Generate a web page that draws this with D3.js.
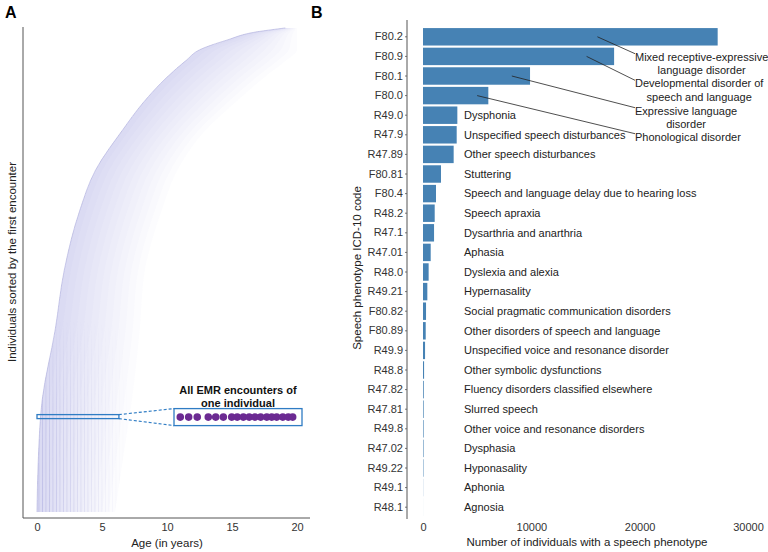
<!DOCTYPE html>
<html>
<head>
<meta charset="utf-8">
<script src="https://cdn.jsdelivr.net/npm/d3@7"></script>
<style>
  body { margin: 0; background: #fff; }
  svg { font-family: "Liberation Sans", Arial, sans-serif; }
  .axis text { font-size: 11px; fill: #333; }
</style>
</head>
<body>
<script>
// panel A: outline of the encounter cloud
// (percent of individuals, sorted by first encounter, bottom = earliest)
const rankPct   = [0.4, 11.1, 23.4, 37.8, 50.1, 62.4, 70.6, 78.9, 84.4, 89.7, 93.2, 95.3, 97.3, 99, 99.8];
const firstAge  = [0, 0.1, 0.4, 1.4, 2.1, 3.3, 4.5, 6.6, 8.15, 10.0, 11.5, 12.5, 14.6, 16.9, 19.1];
const lastAge   = [6.0, 6.6, 7.3, 7.9, 8.3, 9.6, 10.8, 13.0, 15.2, 17.5, 19.2, 20, 20, 20, 20];
const ageTicks  = [0, 5, 10, 15, 20];

// one individual shown in the inset
const exampleRank = 20;
const exampleSpan = [0, 6.3];
const encounterAges = [0.12, 0.56, 1.01, 1.59, 1.98, 2.38, 2.82, 3.11, 3.43, 3.74, 4.04, 4.34, 4.66, 4.92, 5.18, 5.5, 5.79, 6.02];

// panel B
const codes = ["F80.2", "F80.9", "F80.1", "F80.0", "R49.0", "R47.9", "R47.89", "F80.81", "F80.4", "R48.2",
  "R47.1", "R47.01", "R48.0", "R49.21", "F80.82", "F80.89", "R49.9", "R48.8", "R47.82", "R47.81",
  "R49.8", "R47.02", "R49.22", "R49.1", "R48.1"];
const counts = [27200, 17640, 9880, 6030, 3170, 3110, 2830, 1660, 1200, 1080,
  1020, 710, 520, 400, 280, 250, 190, 100, 70, 60,
  55, 50, 40, 12, 3];
const descriptions = ["", "", "", "", "Dysphonia", "Unspecified speech disturbances", "Other speech disturbances",
  "Stuttering", "Speech and language delay due to hearing loss", "Speech apraxia", "Dysarthria and anarthria",
  "Aphasia", "Dyslexia and alexia", "Hypernasality", "Social pragmatic communication disorders",
  "Other disorders of speech and language", "Unspecified voice and resonance disorder",
  "Other symbolic dysfunctions", "Fluency disorders classified elsewhere", "Slurred speech",
  "Other voice and resonance disorders", "Dysphasia", "Hyponasality", "Aphonia", "Agnosia"];
const calloutCodes  = ["F80.2", "F80.9", "F80.1", "F80.0"];
const calloutAnchor = [16100, 15100, 8200, 5000];
const calloutText = [
  ["Mixed receptive-expressive", "language disorder"],
  ["Developmental disorder of", "speech and language"],
  ["Expressive language", "disorder"],
  ["Phonological disorder"]
];
const countTicks = [0, 10000, 20000, 30000];

const W = 768, H = 552;
const svg = d3.select("body").append("svg").attr("width", W).attr("height", H);
const defs = svg.append("defs");

svg.append("text").attr("x", 5).attr("y", 18).attr("font-size", 16).attr("font-weight", "bold").text("A");
svg.append("text").attr("x", 311).attr("y", 18).attr("font-size", 16).attr("font-weight", "bold").text("B");

// ---------- panel A ----------
const xA = d3.scaleLinear().domain([0, 20]).range([37, 297]);
const yA = d3.scaleLinear().domain([0, 100]).range([514, 27]);
const cloud = rankPct.map((r, i) => ({ r, a: firstAge[i], b: lastAge[i] }));

const layers = 12;
for (let k = 1; k <= layers; k++) {
  const area = d3.area()
    .y(d => yA(d.r))
    .x0(d => xA(d.a))
    .x1(d => xA(d.a + (d.b - d.a) * k / layers))
    .curve(d3.curveMonotoneY);
  svg.append("path").datum(cloud)
    .attr("d", area)
    .attr("fill", "#6464c4")
    .attr("fill-opacity", 0.019);
}

// faint vertical streaks in the dense early-childhood corner
const fullArea = d3.area().y(d => yA(d.r)).x0(d => xA(d.a)).x1(d => xA(d.b)).curve(d3.curveMonotoneY);
defs.append("clipPath").attr("id", "cloudClip").append("path").datum(cloud).attr("d", fullArea);
const pat = defs.append("pattern").attr("id", "vstreak").attr("patternUnits", "userSpaceOnUse")
  .attr("width", 3.5).attr("height", 10);
pat.append("rect").attr("width", 0.8).attr("height", 10).attr("fill", "#7a7ac8");
const fade = defs.append("linearGradient").attr("id", "streakFade").attr("x1", 0).attr("x2", 1).attr("y1", 0).attr("y2", 0);
fade.append("stop").attr("offset", 0).attr("stop-color", "#fff").attr("stop-opacity", 0.9);
fade.append("stop").attr("offset", 1).attr("stop-color", "#fff").attr("stop-opacity", 0);
const fadeV = defs.append("linearGradient").attr("id", "streakFadeV").attr("x1", 0).attr("x2", 0).attr("y1", 0).attr("y2", 1);
fadeV.append("stop").attr("offset", 0).attr("stop-color", "#fff").attr("stop-opacity", 0);
fadeV.append("stop").attr("offset", 0.5).attr("stop-color", "#fff").attr("stop-opacity", 0.8);
fadeV.append("stop").attr("offset", 1).attr("stop-color", "#fff").attr("stop-opacity", 1);
const m = defs.append("mask").attr("id", "streakMask");
m.append("rect").attr("x", xA(0)).attr("y", yA(40)).attr("width", xA(7) - xA(0)).attr("height", yA(0) - yA(40))
  .attr("fill", "url(#streakFade)");
const m2 = defs.append("mask").attr("id", "streakMaskV");
m2.append("rect").attr("x", xA(0)).attr("y", yA(40)).attr("width", xA(7) - xA(0)).attr("height", yA(0) - yA(40))
  .attr("fill", "url(#streakFadeV)");
svg.append("g").attr("clip-path", "url(#cloudClip)").attr("mask", "url(#streakMaskV)")
  .append("rect").attr("x", xA(0)).attr("y", yA(40)).attr("width", xA(7) - xA(0)).attr("height", yA(0) - yA(40))
  .attr("fill", "url(#vstreak)").attr("opacity", 0.35).attr("mask", "url(#streakMask)");

svg.append("path").datum(cloud)
  .attr("d", d3.line().y(d => yA(d.r)).x(d => xA(d.a)).curve(d3.curveMonotoneY))
  .attr("fill", "none").attr("stroke", "#b4b4e0").attr("stroke-width", 0.7);

svg.append("line").attr("x1", 23).attr("x2", 23).attr("y1", 27).attr("y2", 518).attr("stroke", "#555");
svg.append("line").attr("x1", 23).attr("x2", 310).attr("y1", 518).attr("y2", 518).attr("stroke", "#555");

const gxA = svg.append("g").attr("class", "axis").attr("transform", "translate(0,518)")
  .call(d3.axisBottom(xA).tickValues(ageTicks).tickSize(0).tickPadding(5));
gxA.select(".domain").remove();

svg.append("text").attr("x", 167).attr("y", 547).attr("text-anchor", "middle")
  .attr("font-size", 11.5).attr("fill", "#222").text("Age (in years)");
svg.append("text").attr("transform", "translate(16,262) rotate(-90)").attr("text-anchor", "middle")
  .attr("font-size", 11.5).attr("fill", "#222").text("Individuals sorted by the first encounter");

// inset: one individual's encounters
const yEx = yA(exampleRank);
svg.append("rect").attr("x", xA(exampleSpan[0])).attr("y", yEx - 2)
  .attr("width", xA(exampleSpan[1]) - xA(exampleSpan[0])).attr("height", 4)
  .attr("fill", "none").attr("stroke", "#2f7cc4").attr("stroke-width", 1.3);
const box = { x0: 174, x1: 302, y0: yEx - 8, y1: yEx + 9 };
svg.append("line").attr("x1", xA(exampleSpan[1])).attr("y1", yEx - 2).attr("x2", box.x0).attr("y2", box.y0)
  .attr("stroke", "#2f7cc4").attr("stroke-width", 1.2).attr("stroke-dasharray", "3,2");
svg.append("line").attr("x1", xA(exampleSpan[1])).attr("y1", yEx + 2).attr("x2", box.x0).attr("y2", box.y1)
  .attr("stroke", "#2f7cc4").attr("stroke-width", 1.2).attr("stroke-dasharray", "3,2");
svg.append("rect").attr("x", box.x0).attr("y", box.y0).attr("width", box.x1 - box.x0).attr("height", box.y1 - box.y0)
  .attr("fill", "#fff").attr("stroke", "#2f7cc4").attr("stroke-width", 1.3);
const xIn = d3.scaleLinear().domain(exampleSpan).range([178, 298]);
svg.selectAll(".enc").data(encounterAges).enter().append("circle")
  .attr("class", "enc")
  .attr("cx", d => xIn(d)).attr("cy", (box.y0 + box.y1) / 2).attr("r", 3.8)
  .attr("fill", "#6b2a92");
svg.append("text").attr("x", 238).attr("y", box.y0 - 15).attr("text-anchor", "middle")
  .attr("font-size", 11).attr("font-weight", "bold").attr("fill", "#111").text("All EMR encounters of");
svg.append("text").attr("x", 238).attr("y", box.y0 - 2).attr("text-anchor", "middle")
  .attr("font-size", 11).attr("font-weight", "bold").attr("fill", "#111").text("one individual");

// ---------- panel B ----------
const xB = d3.scaleLinear().domain([0, 30000]).range([423, 748]);
const yB = d3.scaleBand().domain(codes).range([27, 517]).paddingInner(0.11).paddingOuter(0.055);

svg.selectAll(".bar").data(codes).enter().append("rect")
  .attr("class", "bar")
  .attr("x", xB(0))
  .attr("y", d => yB(d))
  .attr("width", (d, i) => xB(counts[i]) - xB(0))
  .attr("height", yB.bandwidth())
  .attr("fill", "#4682b4");

const gyB = svg.append("g").attr("class", "axis").attr("transform", "translate(407,0)")
  .call(d3.axisLeft(yB).tickSize(2).tickPadding(2));
gyB.select(".domain").remove();
gyB.selectAll(".tick line").attr("stroke", "#777");
svg.append("line").attr("x1", 407).attr("x2", 407).attr("y1", 20).attr("y2", 519).attr("stroke", "#555");

const gxB = svg.append("g").attr("class", "axis").attr("transform", "translate(0,519)")
  .call(d3.axisBottom(xB).tickValues(countTicks).tickFormat(d3.format("d")).tickSize(0).tickPadding(4));
gxB.select(".domain").remove();

svg.append("text").attr("x", 587).attr("y", 546).attr("text-anchor", "middle")
  .attr("font-size", 11.5).attr("fill", "#222").text("Number of individuals with a speech phenotype");
svg.append("text").attr("transform", "translate(361,268) rotate(-90)").attr("text-anchor", "middle")
  .attr("font-size", 11.5).attr("fill", "#222").text("Speech phenotype ICD-10 code");

svg.selectAll(".desc").data(codes).enter().append("text")
  .attr("class", "desc")
  .attr("x", 464)
  .attr("y", d => yB(d) + yB.bandwidth() / 2)
  .attr("dy", "0.35em")
  .attr("font-size", 11).attr("fill", "#222")
  .text((d, i) => descriptions[i]);

// callouts for the four largest bars
const calloutY = [56.7, 83.3, 110.7, 136.7];
calloutCodes.forEach((c, i) => {
  const cy = yB(c) + yB.bandwidth() / 2;
  const ty = calloutY[i];
  svg.append("line")
    .attr("x1", xB(calloutAnchor[i])).attr("y1", cy)
    .attr("x2", 635).attr("y2", ty - 3)
    .attr("stroke", "#222").attr("stroke-width", 0.8);
  const first = svg.append("text").attr("x", 635).attr("y", ty).attr("dy", "0.35em")
    .attr("font-size", 11).attr("fill", "#222").text(calloutText[i][0]);
  const w = first.node().getComputedTextLength();
  if (calloutText[i][1]) {
    svg.append("text").attr("x", 635 + w / 2).attr("y", ty + 13.5).attr("dy", "0.35em")
      .attr("text-anchor", "middle").attr("font-size", 11).attr("fill", "#222").text(calloutText[i][1]);
  }
});
</script>
</body>
</html>
